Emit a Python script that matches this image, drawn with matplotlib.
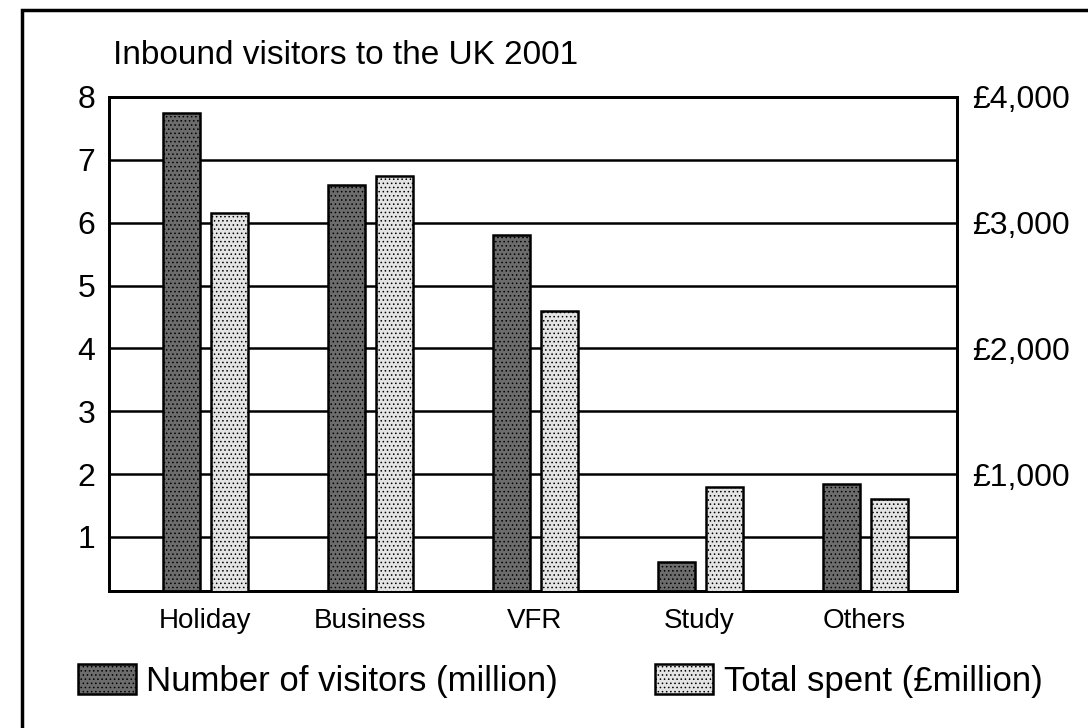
import numpy as np
import matplotlib.pyplot as plt
from matplotlib.patches import Rectangle

plt.rcParams['font.family'] = ['Liberation Sans', 'DejaVu Sans']
plt.rcParams['hatch.linewidth'] = 0.6

# data
categories = ['Holiday', 'Business', 'VFR', 'Study', 'Others']
visitors_million = [7.75, 6.6, 5.8, 0.6, 1.85]
spent_million_gbp = [3075, 3375, 2300, 900, 800]
left_ticks = [1, 2, 3, 4, 5, 6, 7, 8]
right_ticks = [1000, 2000, 3000, 4000]
right_labels = ['£1,000', '£2,000', '£3,000', '£4,000']

W, H = 1088, 728
fig = plt.figure(figsize=(W / 100, H / 100), dpi=100)
ax = fig.add_axes([109 / W, 1 - 591 / H, (957 - 109) / W, (591 - 97) / H])
ax2 = ax.twinx()

x = np.arange(len(categories))
w = 0.224
ax.bar(x - 0.142, visitors_million, w, color='#6c6c6c', edgecolor='black',
       linewidth=1.8, hatch='....', zorder=3, label='Number of visitors (million)')
ax2.bar(x + 0.148, spent_million_gbp, w, color='#e4e4e4', edgecolor='black',
        linewidth=1.8, hatch='....', zorder=3, label='Total spent (£million)')

ax.set_xlim(-0.58, 4.56)
ymin = 0.14
ax.set_ylim(ymin, 8)
ax2.set_ylim(ymin * 500, 8 * 500)

ax.set_yticks(left_ticks)
ax.set_yticklabels([str(t) for t in left_ticks], fontsize=23)
ax.tick_params(axis='y', length=0, pad=10)
ax.yaxis.grid(True, color='black', linewidth=1.8, zorder=0)
ax.set_axisbelow(True)

ax2.set_yticks(right_ticks)
ax2.set_yticklabels(right_labels, fontsize=23)
ax2.tick_params(axis='y', length=0, pad=11)

ax.set_xticks(x)
ax.set_xticklabels(categories, fontsize=20)
ax.tick_params(axis='x', length=0, pad=12)

for a in (ax, ax2):
    for s in a.spines.values():
        s.set_linewidth(2)
        s.set_color('black')

fig.text(113 / W, 1 - 55 / H, 'Inbound visitors to the UK 2001', fontsize=24,
         va='center', ha='left')

# outer frame like the scan
fig.add_artist(Rectangle((22 / W, -0.02), 1.1, 1 - 10 / H + 0.02,
                         transform=fig.transFigure, fill=False,
                         edgecolor='black', linewidth=2.5))

h1, l1 = ax.get_legend_handles_labels()
h2, l2 = ax2.get_legend_handles_labels()
fig.legend(h1 + h2, l1 + l2, loc='center left', bbox_to_anchor=(78 / W, 1 - 681 / H),
           ncol=2, frameon=False, fontsize=25, handlelength=1.67, handleheight=0.95,
           columnspacing=2.8, handletextpad=0.3, borderpad=0, borderaxespad=0)

fig.savefig('out.png', dpi=100)
